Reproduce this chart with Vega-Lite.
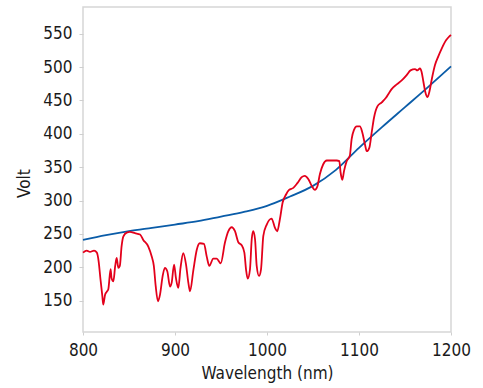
{
  "$schema": "https://vega.github.io/schema/vega-lite/v6.json",
  "width": 368,
  "height": 325,
  "autosize": "none",
  "padding": {"left": 83, "top": 7, "right": 32, "bottom": 56},
  "background": "white",
  "config": {
    "view": {"stroke": "#d6d6d6", "strokeWidth": 1.5},
    "font": "DejaVu Sans Condensed, sans-serif",
    "axis": {
      "grid": false,
      "domain": false,
      "tickColor": "#cfcfcf",
      "tickSize": 4,
      "labelFont": "DejaVu Sans Condensed, sans-serif",
      "titleFont": "DejaVu Sans Condensed, sans-serif",
      "labelFontSize": 17,
      "titleFontSize": 17,
      "labelColor": "#1a1a1a",
      "titleColor": "#1a1a1a",
      "titleFontWeight": "normal"
    }
  },
  "data": {
    "values": [
      {"series": "Reference", "wavelength": 800, "volt": 241},
      {"series": "Reference", "wavelength": 825, "volt": 248},
      {"series": "Reference", "wavelength": 850, "volt": 254},
      {"series": "Reference", "wavelength": 875, "volt": 259},
      {"series": "Reference", "wavelength": 900, "volt": 264},
      {"series": "Reference", "wavelength": 925, "volt": 269},
      {"series": "Reference", "wavelength": 950, "volt": 276},
      {"series": "Reference", "wavelength": 975, "volt": 283},
      {"series": "Reference", "wavelength": 1000, "volt": 292},
      {"series": "Reference", "wavelength": 1025, "volt": 306},
      {"series": "Reference", "wavelength": 1050, "volt": 322},
      {"series": "Reference", "wavelength": 1075, "volt": 346},
      {"series": "Reference", "wavelength": 1100, "volt": 379},
      {"series": "Reference", "wavelength": 1125, "volt": 410},
      {"series": "Reference", "wavelength": 1150, "volt": 440},
      {"series": "Reference", "wavelength": 1175, "volt": 470},
      {"series": "Reference", "wavelength": 1200, "volt": 501},
      {"series": "Measured", "wavelength": 800, "volt": 222},
      {"series": "Measured", "wavelength": 804, "volt": 225},
      {"series": "Measured", "wavelength": 807.6, "volt": 223},
      {"series": "Measured", "wavelength": 812, "volt": 225},
      {"series": "Measured", "wavelength": 815, "volt": 222},
      {"series": "Measured", "wavelength": 817, "volt": 209},
      {"series": "Measured", "wavelength": 819, "volt": 182},
      {"series": "Measured", "wavelength": 821, "volt": 157},
      {"series": "Measured", "wavelength": 822, "volt": 144},
      {"series": "Measured", "wavelength": 824, "volt": 159},
      {"series": "Measured", "wavelength": 825.7, "volt": 163},
      {"series": "Measured", "wavelength": 827.5, "volt": 167},
      {"series": "Measured", "wavelength": 830, "volt": 197},
      {"series": "Measured", "wavelength": 831, "volt": 184},
      {"series": "Measured", "wavelength": 833, "volt": 179},
      {"series": "Measured", "wavelength": 835, "volt": 202},
      {"series": "Measured", "wavelength": 836.6, "volt": 214},
      {"series": "Measured", "wavelength": 838.4, "volt": 199},
      {"series": "Measured", "wavelength": 840, "volt": 202},
      {"series": "Measured", "wavelength": 842, "volt": 232},
      {"series": "Measured", "wavelength": 843.8, "volt": 246},
      {"series": "Measured", "wavelength": 847.5, "volt": 252},
      {"series": "Measured", "wavelength": 851, "volt": 253},
      {"series": "Measured", "wavelength": 856.5, "volt": 251},
      {"series": "Measured", "wavelength": 862, "volt": 249},
      {"series": "Measured", "wavelength": 865.5, "volt": 241},
      {"series": "Measured", "wavelength": 871, "volt": 231},
      {"series": "Measured", "wavelength": 874.7, "volt": 216},
      {"series": "Measured", "wavelength": 877, "volt": 202},
      {"series": "Measured", "wavelength": 879, "volt": 172},
      {"series": "Measured", "wavelength": 881.5, "volt": 149},
      {"series": "Measured", "wavelength": 883.7, "volt": 159},
      {"series": "Measured", "wavelength": 886.6, "volt": 187},
      {"series": "Measured", "wavelength": 889, "volt": 199},
      {"series": "Measured", "wavelength": 891.6, "volt": 194},
      {"series": "Measured", "wavelength": 894.6, "volt": 171},
      {"series": "Measured", "wavelength": 896.4, "volt": 177},
      {"series": "Measured", "wavelength": 899, "volt": 204},
      {"series": "Measured", "wavelength": 901, "volt": 184},
      {"series": "Measured", "wavelength": 903.6, "volt": 169},
      {"series": "Measured", "wavelength": 906, "volt": 199},
      {"series": "Measured", "wavelength": 909, "volt": 221},
      {"series": "Measured", "wavelength": 912, "volt": 204},
      {"series": "Measured", "wavelength": 914.5, "volt": 177},
      {"series": "Measured", "wavelength": 916.3, "volt": 164},
      {"series": "Measured", "wavelength": 920, "volt": 196},
      {"series": "Measured", "wavelength": 923.6, "volt": 226},
      {"series": "Measured", "wavelength": 927, "volt": 236},
      {"series": "Measured", "wavelength": 931.5, "volt": 235},
      {"series": "Measured", "wavelength": 934.5, "volt": 216},
      {"series": "Measured", "wavelength": 937.3, "volt": 202},
      {"series": "Measured", "wavelength": 941.6, "volt": 213},
      {"series": "Measured", "wavelength": 945.3, "volt": 213},
      {"series": "Measured", "wavelength": 949.7, "volt": 206},
      {"series": "Measured", "wavelength": 954.3, "volt": 237},
      {"series": "Measured", "wavelength": 958, "volt": 254},
      {"series": "Measured", "wavelength": 961.6, "volt": 260},
      {"series": "Measured", "wavelength": 965.2, "volt": 254},
      {"series": "Measured", "wavelength": 969, "volt": 237},
      {"series": "Measured", "wavelength": 972.5, "volt": 233},
      {"series": "Measured", "wavelength": 975.4, "volt": 222},
      {"series": "Measured", "wavelength": 977.2, "volt": 197},
      {"series": "Measured", "wavelength": 979, "volt": 183},
      {"series": "Measured", "wavelength": 981.5, "volt": 197},
      {"series": "Measured", "wavelength": 983.4, "volt": 242},
      {"series": "Measured", "wavelength": 985, "volt": 254},
      {"series": "Measured", "wavelength": 987, "volt": 242},
      {"series": "Measured", "wavelength": 988.8, "volt": 202},
      {"series": "Measured", "wavelength": 991.3, "volt": 187},
      {"series": "Measured", "wavelength": 993.5, "volt": 197},
      {"series": "Measured", "wavelength": 996, "volt": 247},
      {"series": "Measured", "wavelength": 999.7, "volt": 264},
      {"series": "Measured", "wavelength": 1005, "volt": 273},
      {"series": "Measured", "wavelength": 1008.7, "volt": 259},
      {"series": "Measured", "wavelength": 1011.2, "volt": 254},
      {"series": "Measured", "wavelength": 1014, "volt": 272},
      {"series": "Measured", "wavelength": 1017, "volt": 297},
      {"series": "Measured", "wavelength": 1020.7, "volt": 309},
      {"series": "Measured", "wavelength": 1024, "volt": 316},
      {"series": "Measured", "wavelength": 1028.6, "volt": 319},
      {"series": "Measured", "wavelength": 1033, "volt": 326},
      {"series": "Measured", "wavelength": 1037.7, "volt": 335},
      {"series": "Measured", "wavelength": 1041, "volt": 337},
      {"series": "Measured", "wavelength": 1045, "volt": 332},
      {"series": "Measured", "wavelength": 1048.6, "volt": 322},
      {"series": "Measured", "wavelength": 1052, "volt": 316},
      {"series": "Measured", "wavelength": 1054.7, "volt": 321},
      {"series": "Measured", "wavelength": 1057.6, "volt": 340},
      {"series": "Measured", "wavelength": 1061, "volt": 354},
      {"series": "Measured", "wavelength": 1065, "volt": 360},
      {"series": "Measured", "wavelength": 1070, "volt": 360},
      {"series": "Measured", "wavelength": 1075.8, "volt": 360},
      {"series": "Measured", "wavelength": 1078.6, "volt": 359},
      {"series": "Measured", "wavelength": 1080, "volt": 342},
      {"series": "Measured", "wavelength": 1081.9, "volt": 331},
      {"series": "Measured", "wavelength": 1083.7, "volt": 344},
      {"series": "Measured", "wavelength": 1086.6, "volt": 359},
      {"series": "Measured", "wavelength": 1090, "volt": 367},
      {"series": "Measured", "wavelength": 1092, "volt": 392},
      {"series": "Measured", "wavelength": 1094.6, "volt": 406},
      {"series": "Measured", "wavelength": 1097.5, "volt": 411},
      {"series": "Measured", "wavelength": 1101, "volt": 411},
      {"series": "Measured", "wavelength": 1103.6, "volt": 402},
      {"series": "Measured", "wavelength": 1106.5, "volt": 384},
      {"series": "Measured", "wavelength": 1108.4, "volt": 374},
      {"series": "Measured", "wavelength": 1111.2, "volt": 379},
      {"series": "Measured", "wavelength": 1113.8, "volt": 402},
      {"series": "Measured", "wavelength": 1116.3, "volt": 424},
      {"series": "Measured", "wavelength": 1120, "volt": 441},
      {"series": "Measured", "wavelength": 1124.7, "volt": 447},
      {"series": "Measured", "wavelength": 1129.3, "volt": 454},
      {"series": "Measured", "wavelength": 1133, "volt": 462},
      {"series": "Measured", "wavelength": 1135.5, "volt": 467},
      {"series": "Measured", "wavelength": 1141, "volt": 474},
      {"series": "Measured", "wavelength": 1146.4, "volt": 480},
      {"series": "Measured", "wavelength": 1151.8, "volt": 488},
      {"series": "Measured", "wavelength": 1156, "volt": 495},
      {"series": "Measured", "wavelength": 1160.9, "volt": 497},
      {"series": "Measured", "wavelength": 1163.4, "volt": 495},
      {"series": "Measured", "wavelength": 1166.3, "volt": 498},
      {"series": "Measured", "wavelength": 1168, "volt": 493},
      {"series": "Measured", "wavelength": 1170, "volt": 478},
      {"series": "Measured", "wavelength": 1172, "volt": 463},
      {"series": "Measured", "wavelength": 1174.5, "volt": 455},
      {"series": "Measured", "wavelength": 1176.5, "volt": 463},
      {"series": "Measured", "wavelength": 1179, "volt": 481},
      {"series": "Measured", "wavelength": 1182.6, "volt": 503},
      {"series": "Measured", "wavelength": 1186.2, "volt": 516},
      {"series": "Measured", "wavelength": 1190, "volt": 528},
      {"series": "Measured", "wavelength": 1194.6, "volt": 540},
      {"series": "Measured", "wavelength": 1198.2, "volt": 546},
      {"series": "Measured", "wavelength": 1200, "volt": 548}
    ]
  },
  "mark": {"type": "line", "interpolate": "monotone", "strokeWidth": 1.8},
  "encoding": {
    "x": {
      "field": "wavelength",
      "type": "quantitative",
      "title": "Wavelength (nm)",
      "scale": {"domain": [800, 1200], "nice": false, "zero": false},
      "axis": {"values": [800, 900, 1000, 1100, 1200], "format": "d", "tickSize": 3, "labelPadding": 7, "titlePadding": 7, "labelFlush": false}
    },
    "y": {
      "field": "volt",
      "type": "quantitative",
      "title": "Volt",
      "scale": {"domain": [103, 590], "nice": false, "zero": false},
      "axis": {"values": [150, 200, 250, 300, 350, 400, 450, 500, 550], "format": "d", "tickSize": 4, "labelPadding": 7, "titleY": 176, "titleX": -50}
    },
    "color": {
      "field": "series",
      "type": "nominal",
      "scale": {"domain": ["Reference", "Measured"], "range": ["#0a5ca8", "#e3001b"]},
      "legend": null
    }
  }
}
